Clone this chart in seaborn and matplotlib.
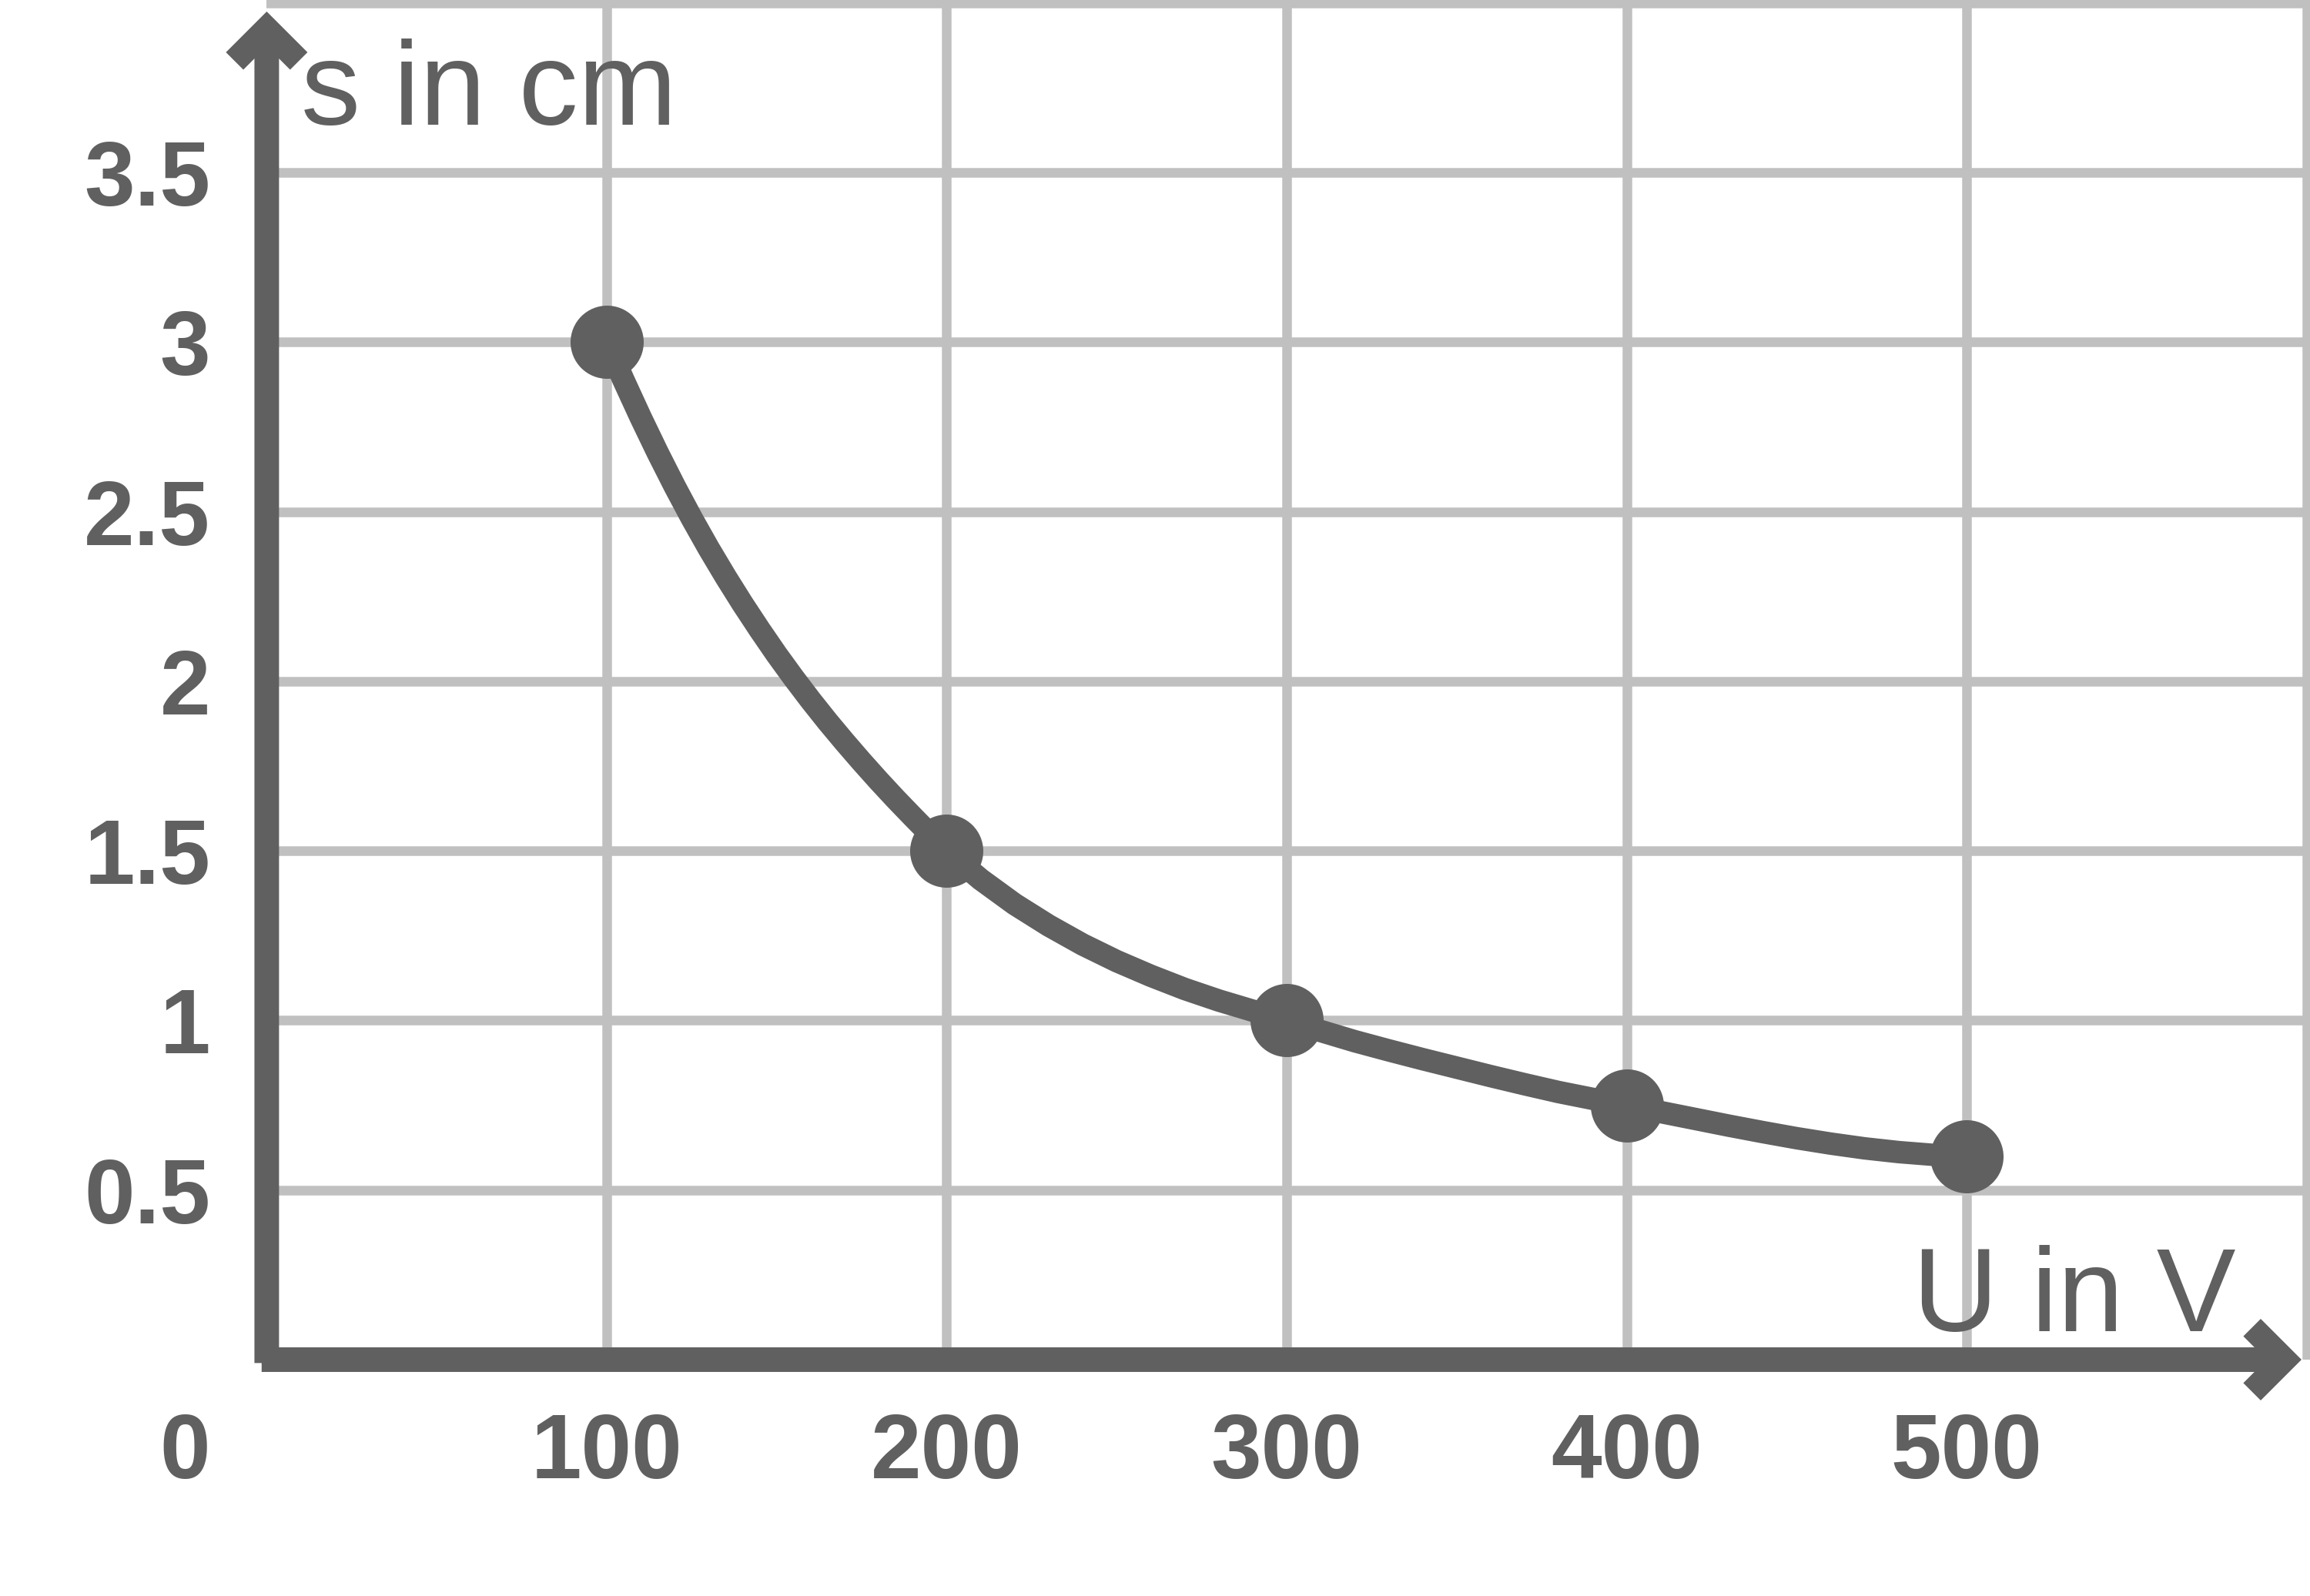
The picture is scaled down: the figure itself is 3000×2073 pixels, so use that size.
"""
Deflection s against voltage U: measured points joined by a smooth curve,
drawn on a light grid with arrow-tipped axes.
"""

import matplotlib

matplotlib.use("Agg")

import matplotlib.pyplot as plt
import seaborn as sns

# measured points
u_points = [100, 200, 300, 400, 500]
s_points = [3.0, 1.5, 1.0, 0.75, 0.6]

# smooth connecting curve
u_curve = [100, 105, 110, 115, 120, 125, 130, 135, 140, 145, 150, 155, 160,
           165, 170, 175, 180, 185, 190, 195, 200, 210, 220, 230, 240, 250,
           260, 270, 280, 290, 300, 310, 320, 330, 340, 350, 360, 370, 380,
           390, 400, 410, 420, 430, 440, 450, 460, 470, 480, 490, 500]
s_curve = [3.000, 2.887, 2.778, 2.674, 2.575, 2.481, 2.392, 2.308, 2.228,
           2.152, 2.079, 2.010, 1.944, 1.881, 1.821, 1.763, 1.707, 1.653,
           1.601, 1.550, 1.500, 1.416, 1.343, 1.280, 1.224, 1.175, 1.132,
           1.093, 1.059, 1.029, 1.000, 0.969, 0.939, 0.912, 0.886, 0.861,
           0.836, 0.812, 0.789, 0.769, 0.750, 0.730, 0.710, 0.690, 0.671,
           0.653, 0.637, 0.623, 0.612, 0.604, 0.600]

x_ticks = [100, 200, 300, 400, 500, 600]
x_tick_labels = ["100", "200", "300", "400", "500", ""]
y_ticks = [0.5, 1.0, 1.5, 2.0, 2.5, 3.0, 3.5, 4.0]
y_tick_labels = ["0.5", "1", "1.5", "2", "2.5", "3", "3.5", ""]

DARK = "#606060"
GRID = "#c0c0c0"

sns.set_theme(style="white")
plt.rcParams["font.family"] = ["Liberation Sans", "DejaVu Sans"]

W, H = 3000, 2073
fig = plt.figure(figsize=(W / 100, H / 100), dpi=100)
ax = fig.add_axes([346.4 / W, 307 / H, (W - 346.4) / W, 1766 / H])

sns.lineplot(x=u_curve, y=s_curve, sort=False, color=DARK, linewidth=21,
             ax=ax, zorder=3)
sns.scatterplot(x=u_points, y=s_points, s=4680, color=DARK, linewidth=0,
                ax=ax, zorder=4)

ax.set_xlim(0, 601.0)
ax.set_ylim(0, 4.009)
ax.set_xlabel("")
ax.set_ylabel("")
for sp in ax.spines.values():
    sp.set_visible(False)

ax.grid(True, color=GRID, linewidth=9, solid_capstyle="round")
ax.set_axisbelow(True)

ax.set_xticks(x_ticks, x_tick_labels)
ax.set_yticks(y_ticks, y_tick_labels)
ax.tick_params(length=0, labelsize=85, labelcolor=DARK)
ax.tick_params(axis="x", pad=48.7)
ax.tick_params(axis="y", pad=52.6)
for lbl in ax.get_xticklabels() + ax.get_yticklabels():
    lbl.set_fontweight("bold")

# arrow-tipped axes (open chevron heads, square ends)
arrow = dict(arrowstyle="->,head_length=30,head_width=30", color=DARK,
             lw=23, shrinkA=0, shrinkB=0, mutation_scale=1,
             capstyle="butt", joinstyle="miter")
ax.annotate("", xy=(598.5, 0), xytext=(-1.5, 0), arrowprops=arrow,
            annotation_clip=False)
ax.annotate("", xy=(0, 3.975), xytext=(0, -0.01), arrowprops=arrow,
            annotation_clip=False)

ax.text(10.1, 3.641, "s in cm", fontsize=111, color=DARK, va="baseline",
        ha="left")
ax.text(484.2, 0.084, "U in V", fontsize=111, color=DARK, va="baseline",
        ha="left")
ax.text(-16.6, -0.154, "0", fontsize=85, fontweight="bold", color=DARK,
        ha="right", va="top")

fig.savefig("out.png", dpi=100)
